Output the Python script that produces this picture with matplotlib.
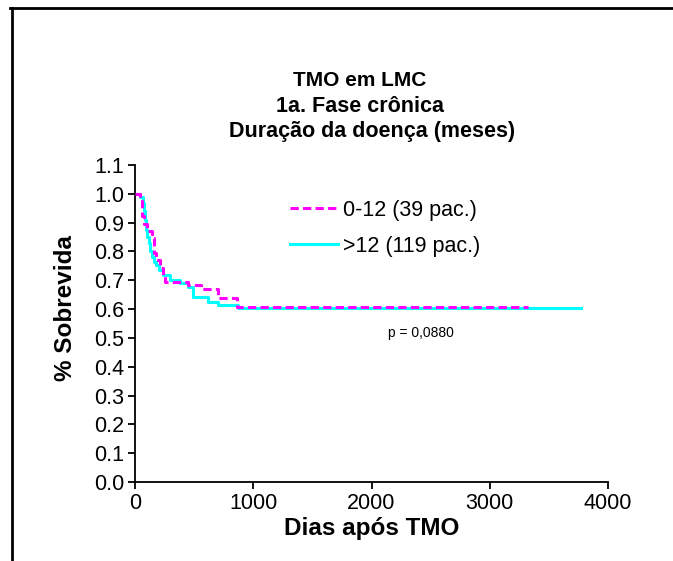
import matplotlib
matplotlib.use("Agg")
import matplotlib.pyplot as plt
from matplotlib.lines import Line2D

plt.rcParams['font.family'] = ['Liberation Sans', 'DejaVu Sans']

# Kaplan-Meier step data (days, survival)
grp1_label = "0-12 (39 pac.)"
grp1_t = [0, 40, 60, 75, 100, 140, 160, 180, 215, 240, 255, 450, 560, 700, 860, 3323]
grp1_s = [1.0, 0.974, 0.923, 0.897, 0.872, 0.846, 0.795, 0.769, 0.744, 0.718, 0.694,
          0.682, 0.668, 0.638, 0.607, 0.607]

grp2_label = ">12 (119 pac.)"
grp2_t = [0, 40, 65, 75, 85, 95, 105, 115, 130, 145, 160, 175, 200, 240, 296, 380, 451,
          493, 620, 704, 874, 3770]
grp2_s = [1.0, 0.99, 0.968, 0.94, 0.91, 0.875, 0.85, 0.829, 0.80, 0.782, 0.765, 0.753,
          0.735, 0.719, 0.701, 0.69, 0.678, 0.643, 0.623, 0.615, 0.603, 0.603]

x_ticks = [0, 1000, 2000, 3000, 4000]
y_ticks = [0.0, 0.1, 0.2, 0.3, 0.4, 0.5, 0.6, 0.7, 0.8, 0.9, 1.0, 1.1]
p_text = "p = 0,0880"

fig = plt.figure(figsize=(6.73, 5.61), dpi=100)
ax = fig.add_axes([135/673, 1-482/561, (608-135)/673, (482-165)/561])

dash = (0, (2.7, 1.4))
ax.step(grp2_t, grp2_s, where='post', color='#00FFFF', lw=2.2, label=grp2_label, zorder=2)
ax.step(grp1_t, grp1_s, where='post', color='#FF00FF', lw=2.2, ls=dash, label=grp1_label, zorder=3)

ax.set_xlim(0, 4000)
ax.set_ylim(0, 1.1)
ax.set_xticks(x_ticks)
ax.set_xticklabels([str(v) for v in x_ticks])
ax.set_yticks(y_ticks)
ax.set_yticklabels([f"{v:.1f}" for v in y_ticks])
for s in ['top', 'right']:
    ax.spines[s].set_visible(False)
for s in ['left', 'bottom']:
    ax.spines[s].set_linewidth(1.3)
ax.tick_params(direction='out', length=5, width=1.3, labelsize=15.5, pad=3)
ax.set_xlabel("Dias após TMO", fontsize=17.5, fontweight='bold')
ax.set_ylabel("% Sobrevida", fontsize=17.5, fontweight='bold')
ax.xaxis.set_label_coords(0.5, -0.11)
ax.yaxis.set_label_coords(-0.123, 0.55)

handles = [Line2D([], [], color='#FF00FF', lw=2.2, ls=dash),
           Line2D([], [], color='#00FFFF', lw=2.2)]
ax.legend(handles, [grp1_label, grp2_label], loc='upper left', bbox_to_anchor=(0.328, 0.89),
          frameon=False, fontsize=15.5, handlelength=2.2, handletextpad=0.25,
          labelspacing=0.7, borderpad=0, borderaxespad=0)

ax.text(2420, 0.517, p_text, ha='center', va='center', fontsize=10)

fig.text(360/673, 1-81/561, "TMO em LMC", ha='center', va='center', fontsize=15, fontweight='bold')
fig.text(360/673, 1-106/561, "1a. Fase crônica", ha='center', va='center', fontsize=15.5, fontweight='bold')
fig.text(372/673, 1-131/561, "Duração da doença (meses)", ha='center', va='center', fontsize=15.5, fontweight='bold')

# outer frame (top and left)
fig.add_artist(Line2D([10/673, 1], [1-8/561, 1-8/561], color='black', lw=2, transform=fig.transFigure))
fig.add_artist(Line2D([12/673, 12/673], [1-8/561, 0], color='black', lw=2, transform=fig.transFigure))

fig.savefig("out.png", dpi=100)
